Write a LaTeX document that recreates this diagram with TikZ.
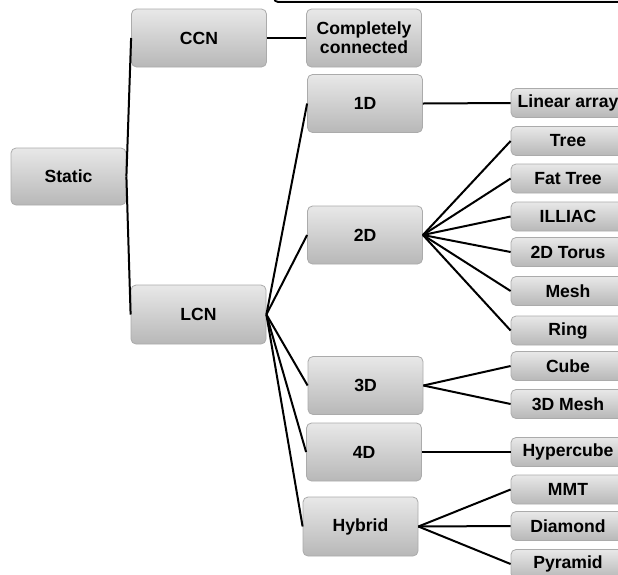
\documentclass[tikz,border=0pt]{standalone}
\usepackage{fontspec}
\setmainfont{Liberation Sans}
\begin{document}
\begin{tikzpicture}[x=1pt,y=-1pt,
  box/.style={rectangle, rounded corners=5pt, draw=black!33, line width=0.8pt,
    top color=black!9, bottom color=black!28, inner sep=0pt, align=center,
    font=\fontsize{17.6}{19}\selectfont\bfseries},
  bigbox/.style={box, minimum width=135pt, minimum height=58pt},
  midbox/.style={box, minimum width=115pt, minimum height=58pt},
  leafbox/.style={box, minimum width=114pt, minimum height=29pt},
  link/.style={line width=2pt, black}]
\useasboundingbox (0,0) rectangle (618,574);

% frame edge along the top
\draw[line width=1.8pt, rounded corners=4pt, fill=black!6] (274,-40) rectangle (660,2);

% root and first level
\node[midbox, minimum height=57pt] (static) at (68.5,176.5) {Static};
\node[bigbox] (ccn) at (199,38) {CCN};
\node[bigbox, minimum height=59pt] (lcn) at (198.5,314.5) {LCN};

% second level
\node[midbox] (cc)  at (364,38)    {Completely\\connected};
\node[midbox] (d1)  at (365,103.5) {1D};
\node[midbox] (d2)  at (365,235)   {2D};
\node[midbox] (d3)  at (365.5,385.5) {3D};
\node[midbox] (d4)  at (364,452)   {4D};
\node[midbox, minimum height=59pt] (hyb) at (360.5,526.5) {Hybrid};

% leaves
\node[leafbox] (lin)   at (568,103)   {Linear array};
\node[leafbox] (tree)  at (568,141)   {Tree};
\node[leafbox] (fat)   at (568,178.5) {Fat Tree};
\node[leafbox] (ill)   at (568,216.5) {ILLIAC};
\node[leafbox] (tor)   at (568,252)   {2D Torus};
\node[leafbox] (mesh)  at (568,291)   {Mesh};
\node[leafbox] (ring)  at (568,330.5) {Ring};
\node[leafbox] (cube)  at (568,366)   {Cube};
\node[leafbox] (mesh3) at (568,404)   {3D Mesh};
\node[leafbox] (hyp)   at (568,452)   {Hypercube};
\node[leafbox] (mmt)   at (568,489.5) {MMT};
\node[leafbox] (dia)   at (568,526)   {Diamond};
\node[leafbox] (pyr)   at (568,564)   {Pyramid};

% connectors
\foreach \t in {ccn,lcn} \draw[link] (static.east) -- (\t.west);
\draw[link] (ccn.east) -- (cc.west);
\foreach \t in {d1,d2,d3,d4,hyb} \draw[link] (lcn.east) -- (\t.west);
\draw[link] (d1.east) -- (lin.west);
\foreach \t in {tree,fat,ill,tor,mesh,ring} \draw[link] (d2.east) -- (\t.west);
\foreach \t in {cube,mesh3} \draw[link] (d3.east) -- (\t.west);
\draw[link] (d4.east) -- (hyp.west);
\foreach \t in {mmt,dia,pyr} \draw[link] (hyb.east) -- (\t.west);
\end{tikzpicture}
\end{document}
